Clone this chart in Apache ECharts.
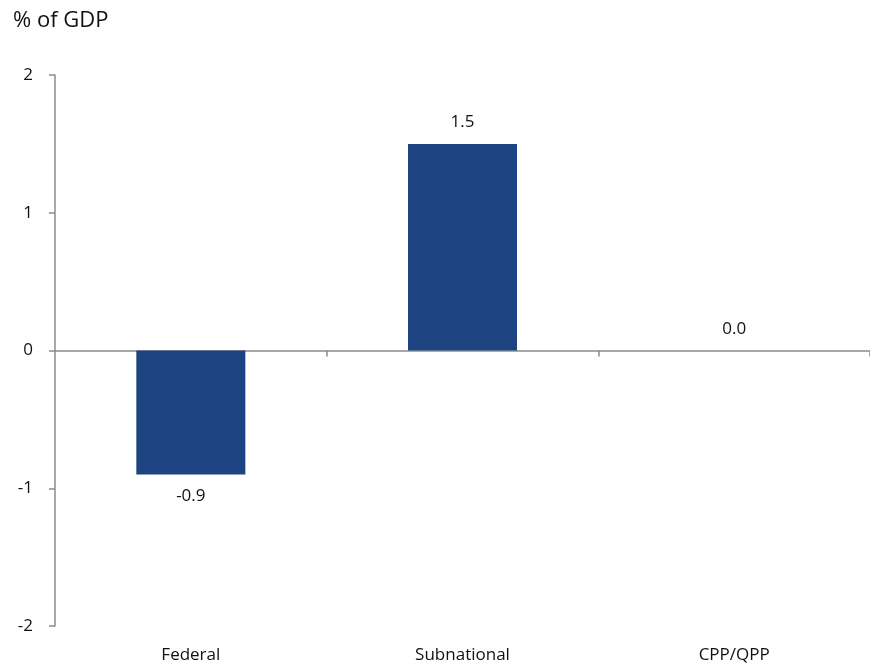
<!DOCTYPE html>
<html>
<head>
<meta charset="UTF-8">
<title>% of GDP</title>
<script type="text/javascript" src="https://cdn.jsdelivr.net/npm/echarts@6/dist/echarts.min.js"></script>
<style>
html,body{margin:0;padding:0;background:#fff;}
</style>
</head>
<body>
	<div id="show" style="width:870px;height:669px"></div>
	<script type="text/javascript">
		var categories=['Federal','Subnational','CPP/QPP'];
		var values=[-0.9,1.5,0.0];
		var yTicks=[-2,-1,0,1,2];

		var font='"Open Sans", "Noto Sans", sans-serif';
		var axisGray='#8c8c8c';

		var myCharts=echarts.init(document.getElementById('show'));
		myCharts.setOption({
			animation:false,
			title:{
				text:'% of GDP',
				left:8,
				top:5,
				textStyle:{fontFamily:font,fontSize:22,fontWeight:'normal',color:'#111'}
			},
			grid:{left:55,right:-1,top:75,bottom:43},
			xAxis:[{
				type:'category',
				data:categories,
				axisLine:{onZero:true,lineStyle:{color:axisGray,width:1.5}},
				axisTick:{show:true,length:6,lineStyle:{color:axisGray,width:1.5},
					interval:function(i){return i>0&&i<categories.length;}},
				axisLabel:{show:false}
			},{
				type:'category',
				data:categories,
				position:'bottom',
				axisLine:{show:false,onZero:false},
				axisTick:{show:false},
				axisLabel:{margin:21,fontFamily:font,fontSize:17,color:'#111'}
			}],
			yAxis:{
				type:'value',
				min:yTicks[0],
				max:yTicks[yTicks.length-1],
				interval:1,
				axisLine:{show:true,lineStyle:{color:axisGray,width:1.5}},
				axisTick:{show:true,length:6,lineStyle:{color:axisGray,width:1.5}},
				splitLine:{show:false},
				axisLabel:{margin:22,fontFamily:font,fontSize:17,color:'#111'}
			},
			series:[{
				type:'bar',
				barWidth:109,
				itemStyle:{color:'#1d4480'},
				label:{
					show:true,
					position:'top',
					distance:13,
					fontFamily:font,
					fontSize:17,
					color:'#111',
					formatter:function(p){return p.value.toFixed(1);}
				},
				data:values.map(function(v){
					return v<0?{value:v,label:{position:'bottom'}}:v;
				})
			}]
		});
	</script>
</body>
</html>
